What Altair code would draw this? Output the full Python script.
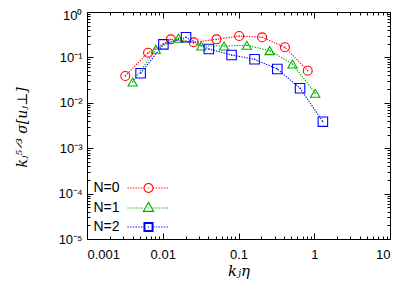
import altair as alt
import pandas as pd

# ---- data ----
series = ["N=0", "N=1", "N=2"]
colors = ["#ff0000", "#00b000", "#0000ff"]

red_x = [0.0032, 0.0064, 0.0128, 0.0256, 0.0512, 0.102, 0.205, 0.41, 0.82]
red_y = [0.039, 0.127, 0.25, 0.215, 0.25, 0.296, 0.277, 0.167, 0.051]
green_x = [0.0040, 0.0081, 0.0161, 0.0323, 0.0645, 0.129, 0.258, 0.516, 1.03]
green_y = [0.0287, 0.151, 0.264, 0.178, 0.178, 0.185, 0.141, 0.0716, 0.0162]
blue_x = [0.0051, 0.0102, 0.0203, 0.0406, 0.081, 0.163, 0.325, 0.65, 1.3]
blue_y = [0.0447, 0.194, 0.277, 0.153, 0.113, 0.0908, 0.0555, 0.0209, 0.00384]

x_major = [0.001, 0.01, 0.1, 1, 10]
y_major = [1e-5, 1e-4, 1e-3, 1e-2, 1e-1, 1]

rows = []
for s, xs, ys in zip(series, [red_x, green_x, blue_x], [red_y, green_y, blue_y]):
    for x, y in zip(xs, ys):
        rows.append({"N": s, "k": x, "v": y})
df = pd.DataFrame(rows)

x_ticks = [round(m * 10.0 ** d, 12) for d in range(-3, 1) for m in range(1, 10)] + [10]
y_ticks = [round(m * 10.0 ** d, 12) for d in range(-5, 0) for m in range(1, 10)] + [1]

W, H = 303, 227
FONT = "Liberation Sans"

xscale = alt.Scale(type="log", domain=[0.001, 10], nice=False)
yscale = alt.Scale(type="log", domain=[1e-5, 1], nice=False)
cscale = alt.Scale(domain=series, range=colors)

major_test = "abs(log(datum.value)/LN10 - round(log(datum.value)/LN10)) < 0.01"
tsize = {"condition": {"test": major_test, "value": 6}, "value": 3}


def tick_axis(orient, offset, values):
    return alt.Axis(orient=orient, offset=offset, values=values, labels=False,
                    domain=False, grid=False, ticks=True, tickSize=tsize,
                    tickColor="black", tickWidth=1, title="")


# legend symbol paths (unit = 4.5 px), dotted line through marker
def dots(a, b, period=0.6, dash=0.3):
    out = []
    p = a
    while p + dash <= b + 1e-9:
        out.append(f"M{p:.3f},0h{dash:.3f}")
        p += period
    return "".join(out)


line_path = dots(-4.67, -1.0) + dots(1.0, 4.67) + "M-0.12,0h0.24"
circ = "M-1,0A1,1 0 1,1 1,0A1,1 0 1,1 -1,0Z"
tri = "M0,-1.25L1.15,0.75L-1.15,0.75Z"
sq = "M-1,-1H1V1H-1ZM-0.8,-0.8H0.8V0.8H-0.8Z"
legend_paths = [circ + line_path, tri + line_path, sq + line_path]

ylab_expr = ("datum.value > 0.5 ? '10⁰' : datum.value > 0.05 ? '10⁻¹' : "
             "datum.value > 0.005 ? '10⁻²' : datum.value > 0.0005 ? '10⁻³' : "
             "datum.value > 0.00005 ? '10⁻⁴' : '10⁻⁵'")

base = alt.Chart(df)

lines = base.mark_line(strokeDash=[1.3, 1.3], strokeWidth=1.1).encode(
    x=alt.X("k:Q", scale=xscale,
            axis=alt.Axis(orient="bottom", values=x_major, format="~g",
                          ticks=False, tickSize=0, domain=False, grid=False,
                          labelFont=FONT, labelFontSize=13, labelColor="black",
                          labelPadding=9, title="kⱼη", titleFont="DejaVu Serif",
                          titleFontStyle="italic", titleFontWeight="normal",
                          titleFontSize=15, titleColor="black", titlePadding=2)),
    y=alt.Y("v:Q", scale=yscale,
            axis=alt.Axis(orient="left", values=y_major, labelExpr=ylab_expr,
                          ticks=False, tickSize=0, domain=False, grid=False,
                          labelFont=FONT, labelFontSize=13, labelColor="black",
                          labelPadding=5,
                          labelOffset={"condition": {"test": "datum.value > 0.5", "value": 3}, "value": 0},
                          title="kⱼ⁵ᐟ³ σ[uⱼ⊥]",
                          titleFont="DejaVu Serif", titleFontStyle="italic",
                          titleFontWeight="normal", titleFontSize=14,
                          titleColor="black", titleX=-65, titleY=115,
                          titleAlign="center", titleBaseline="middle")),
    color=alt.Color("N:N", scale=cscale, legend=None),
)

points = base.mark_point(filled=False, opacity=1).encode(
    x=alt.X("k:Q", scale=xscale, axis=tick_axis("top", -H, x_ticks)),
    y=alt.Y("v:Q", scale=yscale, axis=tick_axis("right", -W, y_ticks)),
    color=alt.Color("N:N", scale=cscale, legend=None),
    shape=alt.Shape("N:N", scale=alt.Scale(domain=series, range=["circle", "triangle-up", "square"]), legend=None),
    strokeWidth=alt.StrokeWidth("N:N", scale=alt.Scale(domain=series, range=[1.1, 1.1, 2.0]), legend=None),
    size=alt.Size("N:N", scale=alt.Scale(domain=series, range=[80, 90, 70]), legend=None),
)

centers = base.mark_circle(size=2, opacity=1).encode(
    x=alt.X("k:Q", scale=xscale, axis=tick_axis("bottom", -H, x_ticks)),
    y=alt.Y("v:Q", scale=yscale, axis=tick_axis("left", -W, y_ticks)),
    color=alt.Color("N:N", scale=cscale, legend=None),
)

leg = dict(title=None, orient="none", legendX=54.5, legendY=169,
           symbolSize=81, symbolStrokeWidth=1.1, labelAlign="right",
           labelOffset={"expr": "-36"}, labelFont=FONT, labelFontSize=14,
           labelColor="black", rowPadding=5, padding=0)

legend_layer = base.transform_filter("false").mark_point(filled=False, opacity=1).encode(
    x=alt.X("k:Q", scale=xscale, axis=None),
    y=alt.Y("v:Q", scale=yscale, axis=None),
    color=alt.Color("N:N", scale=alt.Scale(domain=series, range=colors), legend=alt.Legend(**leg)),
    shape=alt.Shape("N:N", scale=alt.Scale(domain=series, range=legend_paths), legend=alt.Legend(**leg)),
)

chart = alt.layer(lines, points, centers, legend_layer).resolve_scale(
    color="independent", shape="independent"
).resolve_axis(
    x="independent", y="independent"
).properties(
    width=W, height=H,
    autosize=alt.AutoSizeParams(type="none"),
    padding={"left": 79, "top": 4, "right": 9, "bottom": 43},
    background="white",
).configure_view(stroke="black", strokeWidth=1)

chart.save("out.html", embed_options={"renderer": "svg", "actions": False})
